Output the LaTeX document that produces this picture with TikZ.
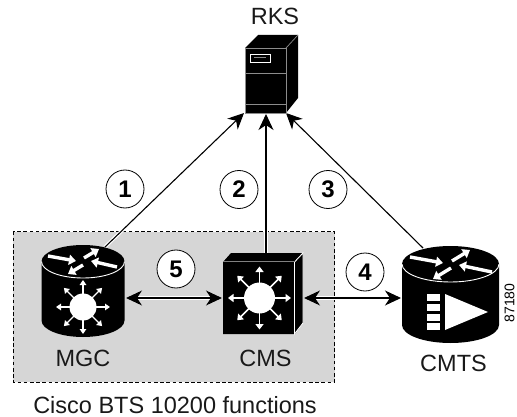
\documentclass[tikz,border=0pt]{standalone}
\usepackage{fontspec}
\setmainfont{Liberation Sans}
\usetikzlibrary{arrows.meta}
\definecolor{panel}{HTML}{D6D6D6}
\tikzset{
  x=1pt,y=-1pt,
  label text/.style={inner sep=0pt,font=\fontsize{23.5}{26}\selectfont,text=black!90},
  step badge/.style={circle,draw=black,line width=0.8pt,fill=white,minimum size=38pt,inner sep=0pt,font=\fontsize{24}{26}\selectfont\bfseries},
  link/.style={line width=1.1pt,draw=black,preaction={draw=white,line width=3.4pt}},
  one way/.style={link,-{Stealth[length=16pt,width=15pt,inset=5pt]}},
  two way/.style={link,{Stealth[length=16pt,width=15pt,inset=5pt]}-{Stealth[length=16pt,width=15pt,inset=5pt]}},
  ray/.style={draw=white,line width=1.7pt,-{Triangle[length=5.5pt,width=8pt]}},
  small ray/.style={draw=white,line width=1.3pt,-{Triangle[length=5pt,width=6.5pt]}},
  flow/.style={draw=white,line width=3.4pt,-{Triangle[length=7pt,width=10pt]}},
  rim/.style={draw=white,line width=0.9pt},
}
\newcommand{\radials}[4]{%
  \foreach \a in {0,45,...,315}{\draw[#4] (#1)++(\a:#2) -- ++(\a:#3);}}
\begin{document}
\begin{tikzpicture}
\useasboundingbox (0,0) rectangle (517,417);
% group panel
\draw[fill=panel,draw=black,line width=0.7pt,dash pattern=on 3.6pt off 2.6pt] (13,231.5) rectangle (334.5,382);
% anchor coordinates
\coordinate (rksL) at (244,113);
\coordinate (rksM) at (266,114);
\coordinate (rksR) at (286,113);
\coordinate (mgcT) at (105,247);
\coordinate (cmsT) at (266,253);
\coordinate (cmtsT) at (423,248);
\coordinate (mgcE) at (126,298);
\coordinate (cmsW) at (222,298);
\coordinate (cmsE) at (304,298);
\coordinate (cmtsW) at (401,298);
% connectors to RKS
\draw[one way] (mgcT) -- (rksL);
\draw[one way] (cmsT) -- (rksM);
\draw[one way] (cmtsT) -- (rksR);
% RKS
\fill[black] (245,48) -- (258,35) -- (298,35) -- (298,98) -- (286,113) -- (245,113) -- cycle;
\draw[draw=black!45,line width=0.7pt] (245,113) -- (245,48) -- (286,48) -- (286,113) -- cycle;
\draw[draw=black!45,line width=0.7pt] (245,73.5) -- (286,73.5) (245,104) -- (286,104);
\draw[draw=black!45,line width=0.7pt] (286,48) -- (298,35);
\draw[draw=white,line width=0.7pt] (250,54) rectangle (270,62);
\draw[draw=black!45,line width=1pt] (254,58) -- (266,58);
% MGC
\fill[black] (41.5,261.5) arc[start angle=180,end angle=360,x radius=41.5,y radius=16.5] -- (124.5,320.5) arc[start angle=0,end angle=180,x radius=41.5,y radius=16.5] -- cycle;
\draw[rim] (41.5,261.5) arc[start angle=180,end angle=0,x radius=41.5,y radius=16.5];
\draw[flow] (48,256) -- (76,261);
\draw[flow] (84,258) -- (99,249);
\draw[flow] (117,267) -- (91,261);
\draw[flow] (83,265) -- (68,274);
\coordinate (mgcC) at (83,307);
\radials{mgcC}{10}{17}{small ray}
\fill[white] (mgcC) circle[radius=13.5];
% CMS
\fill[black] (223,262) -- (231,253) -- (303,253) -- (303,323) -- (295,334) -- (223,334) -- cycle;
\draw[rim] (294.5,334) -- (294.5,262) -- (303,253) -- (303,323) -- cycle;
\draw[draw=black!50,line width=0.5pt] (223,261.5) -- (294.5,261.5);
\coordinate (cmsC) at (259.5,298);
\radials{cmsC}{12}{19.5}{ray}
\fill[white] (cmsC) circle[radius=15.5];
% CMTS
\fill[black] (402,264) arc[start angle=180,end angle=360,x radius=48.5,y radius=18] -- (499,325) arc[start angle=0,end angle=180,x radius=48.5,y radius=18] -- cycle;
\draw[rim] (402,264) arc[start angle=180,end angle=0,x radius=48.5,y radius=18];
\draw[flow] (410,257) -- (443,263);
\draw[flow] (452,261) -- (470,250);
\draw[flow] (492,272) -- (459,265);
\draw[flow] (451,268) -- (433,279);
\foreach \y in {294,304,313.5,323}{\fill[white] (427,\y) rectangle ++(13,7);}
\fill[white] (445,294) -- (445,330) -- (488,312) -- cycle;
% horizontal links
\draw[two way] (mgcE) -- (cmsW);
\draw[two way] (cmsE) -- (cmtsW);
% badges
\node[step badge] (b1) at (125,189) {1};
\node[step badge] (b2) at (239,189.5) {2};
\node[step badge] (b3) at (328,189.5) {3};
\node[step badge] (b4) at (365,272) {4};
\node[step badge] (b5) at (176,269) {5};
% labels
\node[label text] (rks) at (275,16.5) {RKS};
\node[label text] (mgc) at (83,358) {MGC};
\node[label text] (cms) at (265.5,358) {CMS};
\node[label text] (cmts) at (453.5,363) {CMTS};
\node[label text] (fn) at (175,405) {Cisco BTS 10200 functions};
\node[inner sep=0pt,rotate=90,font=\fontsize{14}{16}\selectfont] (num) at (509.5,303) {87180};
\end{tikzpicture}
\end{document}
